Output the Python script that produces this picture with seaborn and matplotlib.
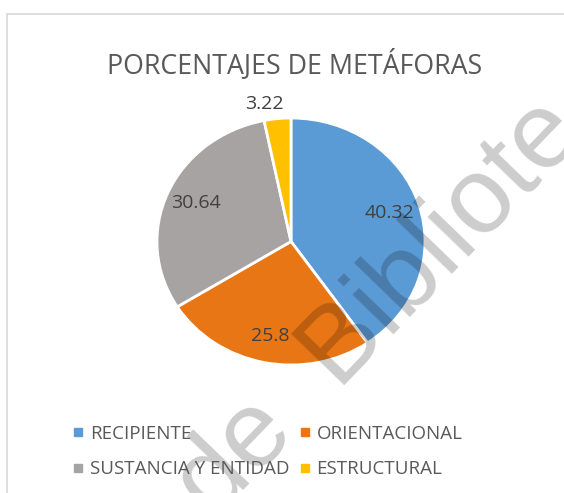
import numpy as np
import seaborn as sns
import matplotlib.pyplot as plt
from matplotlib.lines import Line2D
from matplotlib.patches import Rectangle

categorias = ['RECIPIENTE', 'ORIENTACIONAL', 'SUSTANCIA Y ENTIDAD', 'ESTRUCTURAL']
porcentajes = [40.32, 25.8, 30.64, 3.22]
etiquetas = ['40.32', '25.8', '30.64', '3.22']
colores = ['#5B9BD5', '#E97614', '#A6A3A2', '#FFC000']
titulo = 'PORCENTAJES DE METÁFORAS'
marca_agua = 'de  Bibliote'

sns.set_style('white')
plt.rcParams['font.family'] = ['Open Sans', 'DejaVu Sans']

W, H = 564, 493
fig = plt.figure(figsize=(W / 100, H / 100), dpi=100)

# marco gris claro del grafico
fig.patches.append(Rectangle((7 / W, -0.1), 1.2, 1 - 14 / H + 0.1, transform=fig.transFigure,
                             fill=False, edgecolor='#D9D9D9', lw=1.2))

# la torta del original esta algo estirada en horizontal
cx, cy, rx, ry = 291, 241.5, 134, 123.5
ax = fig.add_axes([(cx - rx) / W, (H - cy - ry) / H, 2 * rx / W, 2 * ry / H])
wedges, _ = ax.pie(porcentajes, colors=colores, startangle=90, counterclock=False,
                   wedgeprops=dict(edgecolor='white', linewidth=2))
ax.set_xlim(-1, 1)
ax.set_ylim(-1, 1)
ax.set_aspect('auto')
ax.axis('off')

for w, lab, val in zip(wedges, etiquetas, porcentajes):
    ang = np.deg2rad((w.theta1 + w.theta2) / 2)
    if val < 5:
        ax.text(1.07 * np.cos(ang) + 0.05, 1.12 * np.sin(ang), lab, ha='right', va='center',
                fontsize=14, color='#404040')
    else:
        ax.text(0.77 * np.cos(ang), 0.78 * np.sin(ang), lab, ha='center', va='center',
                fontsize=14, color='#404040')

fig.text(295 / W, 1 - 65 / H, titulo, ha='center', va='center', fontsize=19.3, color='#595959')

orden = [0, 2, 1, 3]
handles = [Line2D([], [], marker='s', linestyle='none', markersize=6, color=colores[i]) for i in orden]
fig.legend(handles, [categorias[i] for i in orden], ncol=2, loc='center',
           bbox_to_anchor=(266.5 / W, 1 - 451.5 / H),
           frameon=False, fontsize=13.5, labelcolor='#595959', handletextpad=0.24,
           columnspacing=0.4, labelspacing=0.95, handlelength=0.8, borderpad=0)

# marca de agua superpuesta
fig.text(379 / W, 1 - 309 / H, marca_agua, ha='center', va='center', rotation=46,
         rotation_mode='anchor', fontsize=78, color='black', alpha=0.2,
         family='Liberation Sans')

fig.savefig('out.png', dpi=100)
